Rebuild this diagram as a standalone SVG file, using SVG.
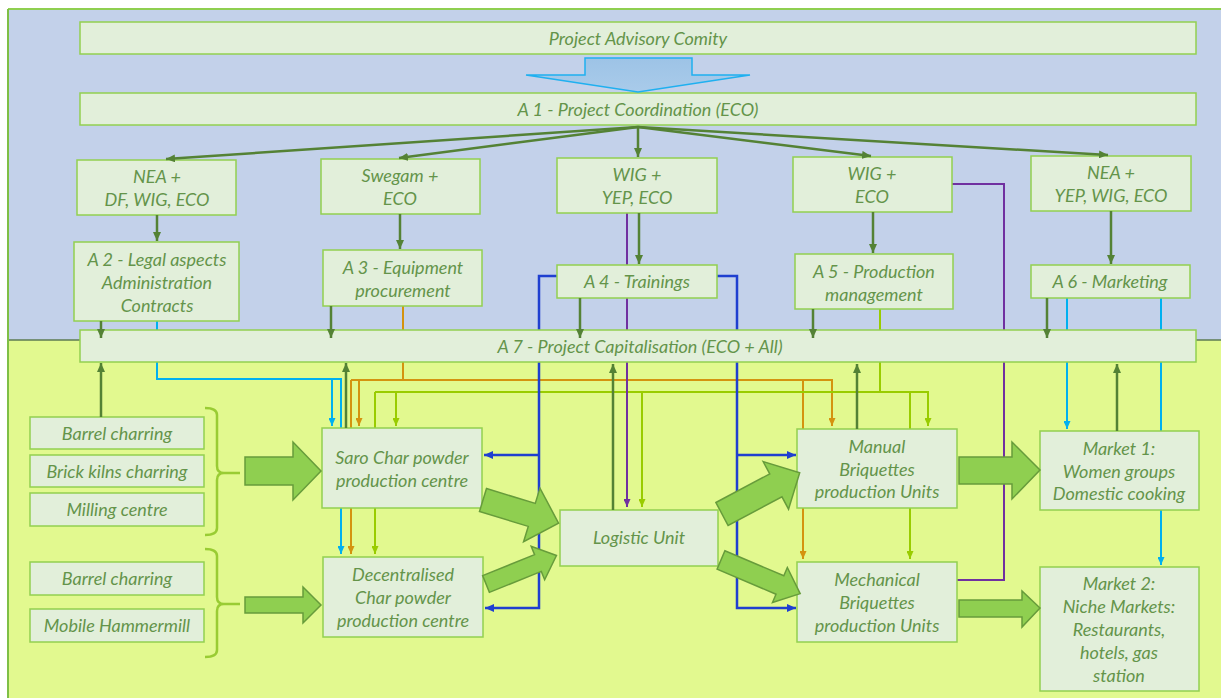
<svg xmlns="http://www.w3.org/2000/svg" width="1221" height="698" viewBox="0 0 1221 698">
<style>
.box{fill:#e2efda;stroke:#92d050;stroke-width:1.5}
.t{font-family:Lato,"Liberation Sans",sans-serif;font-style:italic;font-size:18px;fill:#64944a;text-anchor:middle}
.dg{fill:none;stroke:#548235;stroke-width:2.5}
.cy{fill:none;stroke:#00b0f0;stroke-width:2}
.or{fill:none;stroke:#d4930f;stroke-width:2}
.lg{fill:none;stroke:#99cc00;stroke-width:2}
.bl{fill:none;stroke:#1f3fd0;stroke-width:2.5}
.pu{fill:none;stroke:#7030a0;stroke-width:2}
.big{fill:#8fcf50;stroke:#679c3b;stroke-width:1.5}
.brace{fill:none;stroke:#99cc33;stroke-width:2.5}
</style>
<defs>
<marker id="mDG" markerUnits="userSpaceOnUse" markerWidth="9" markerHeight="8" refX="9" refY="4" orient="auto"><path d="M0,0 L9,4 L0,8 z" fill="#548235"/></marker>
<marker id="mCY" markerUnits="userSpaceOnUse" markerWidth="8" markerHeight="7" refX="8" refY="3.5" orient="auto"><path d="M0,0 L8,3.5 L0,7 z" fill="#00b0f0"/></marker>
<marker id="mOR" markerUnits="userSpaceOnUse" markerWidth="8" markerHeight="7" refX="8" refY="3.5" orient="auto"><path d="M0,0 L8,3.5 L0,7 z" fill="#d4930f"/></marker>
<marker id="mLG" markerUnits="userSpaceOnUse" markerWidth="8" markerHeight="7" refX="8" refY="3.5" orient="auto"><path d="M0,0 L8,3.5 L0,7 z" fill="#99cc00"/></marker>
<marker id="mBL" markerUnits="userSpaceOnUse" markerWidth="9" markerHeight="8" refX="9" refY="4" orient="auto"><path d="M0,0 L9,4 L0,8 z" fill="#1f3fd0"/></marker>
<marker id="mPU" markerUnits="userSpaceOnUse" markerWidth="8" markerHeight="7" refX="8" refY="3.5" orient="auto"><path d="M0,0 L8,3.5 L0,7 z" fill="#7030a0"/></marker>
<linearGradient id="gBlue" x1="0" y1="0" x2="0" y2="1"><stop offset="0" stop-color="#9dc3e6"/><stop offset="1" stop-color="#a9cbea"/></linearGradient>
</defs>

<g id="background">
<rect x="8" y="9" width="1213" height="331" fill="#c3d1ea"/>
<rect x="8" y="340" width="1213" height="358" fill="#e2f98f"/>
<line x1="8" y1="340" x2="1221" y2="340" stroke="#5d7a52" stroke-width="1.5"/>
<line x1="8" y1="9" x2="1221" y2="9" stroke="#8fcf50" stroke-width="2"/>
<line x1="8" y1="9" x2="8" y2="698" stroke="#7fbf45" stroke-width="2"/>
</g>

<g id="connectors-back">
<path class="cy" d="M157,321 V379 H341 V554" marker-end="url(#mCY)"/>
<path class="cy" d="M332,379 V426" marker-end="url(#mCY)"/>
<path class="cy" d="M1067,298 V429" marker-end="url(#mCY)"/>
<path class="cy" d="M1161,298 V565" marker-end="url(#mCY)"/>
<path class="or" d="M403,306 V380"/>
<path class="or" d="M351,380 H832 V426" marker-end="url(#mOR)"/>
<path class="or" d="M351,380 V554" marker-end="url(#mOR)"/>
<path class="or" d="M359,380 V426" marker-end="url(#mOR)"/>
<path class="or" d="M803,380 V559" marker-end="url(#mOR)"/>
<path class="lg" d="M880,309 V392"/>
<path class="lg" d="M375,392 H928 V426" marker-end="url(#mLG)"/>
<path class="lg" d="M375,392 V554" marker-end="url(#mLG)"/>
<path class="lg" d="M396,392 V426" marker-end="url(#mLG)"/>
<path class="lg" d="M642,392 V507" marker-end="url(#mLG)"/>
<path class="lg" d="M910,392 V559" marker-end="url(#mLG)"/>
<path class="bl" d="M557,276 H539 V608 H485" marker-end="url(#mBL)"/>
<path class="bl" d="M539,455 H484" marker-end="url(#mBL)"/>
<path class="bl" d="M717,276 H737 V608 H796" marker-end="url(#mBL)"/>
<path class="bl" d="M737,455 H796" marker-end="url(#mBL)"/>
<path class="pu" d="M627,213 V507" marker-end="url(#mPU)"/>
<path class="pu" d="M952,184 H1004 V580 H949" marker-end="url(#mPU)"/>
</g>

<g id="advisory"><rect class="box" x="80" y="22" width="1116" height="32"/><text class="t" x="638" y="45">Project Advisory Comity</text></g>
<g id="a1"><rect class="box" x="80" y="93" width="1116" height="32"/><text class="t" x="638" y="116">A 1 - Project Coordination (ECO)</text></g>
<g id="p-nea1"><rect class="box" x="77" y="160" width="159" height="55"/><text class="t" x="157" y="183">NEA +</text><text class="t" x="157" y="206">DF, WIG, ECO</text></g>
<g id="p-swegam"><rect class="box" x="321" y="159" width="159" height="55"/><text class="t" x="400" y="182">Swegam +</text><text class="t" x="400" y="205">ECO</text></g>
<g id="p-wig1"><rect class="box" x="557" y="158" width="160" height="55"/><text class="t" x="637" y="181">WIG +</text><text class="t" x="637" y="204">YEP, ECO</text></g>
<g id="p-wig2"><rect class="box" x="793" y="157" width="159" height="55"/><text class="t" x="872" y="180">WIG +</text><text class="t" x="872" y="203">ECO</text></g>
<g id="p-nea2"><rect class="box" x="1031" y="156" width="160" height="55"/><text class="t" x="1111" y="179">NEA +</text><text class="t" x="1111" y="202">YEP, WIG, ECO</text></g>
<g id="a2"><rect class="box" x="74" y="242" width="165" height="79"/><text class="t" x="157" y="266">A 2 - Legal aspects</text><text class="t" x="157" y="289">Administration</text><text class="t" x="157" y="312">Contracts</text></g>
<g id="a3"><rect class="box" x="323" y="250" width="159" height="56"/><text class="t" x="403" y="274">A 3 - Equipment</text><text class="t" x="403" y="297">procurement</text></g>
<g id="a4"><rect class="box" x="557" y="265" width="160" height="33"/><text class="t" x="637" y="288">A 4 - Trainings</text></g>
<g id="a5"><rect class="box" x="795" y="254" width="158" height="55"/><text class="t" x="874" y="278">A 5 - Production</text><text class="t" x="874" y="301">management</text></g>
<g id="a6"><rect class="box" x="1031" y="265" width="159" height="33"/><text class="t" x="1110" y="288">A 6 - Marketing</text></g>
<g id="a7"><rect class="box" x="80" y="330" width="1116" height="32"/><text class="t" x="640" y="353">A 7 - Project Capitalisation (ECO + All)</text></g>

<g id="barrel1"><rect class="box" x="30" y="417" width="174" height="32"/><text class="t" x="117" y="440">Barrel charring</text></g>
<g id="brick"><rect class="box" x="30" y="455" width="174" height="32"/><text class="t" x="117" y="478">Brick kilns charring</text></g>
<g id="milling"><rect class="box" x="30" y="493" width="174" height="33"/><text class="t" x="117" y="516">Milling centre</text></g>
<g id="barrel2"><rect class="box" x="30" y="562" width="174" height="33"/><text class="t" x="117" y="585">Barrel charring</text></g>
<g id="hammermill"><rect class="box" x="30" y="609" width="174" height="33"/><text class="t" x="117" y="632">Mobile Hammermill</text></g>
<g id="brace1"><path class="brace" d="M205,408 Q217,408 217,415 V466 Q217,473 224,473 H240 M224,473 Q217,473 217,480 V528 Q217,535 205,535"/></g>
<g id="brace2"><path class="brace" d="M205,549 Q217,549 217,556 V597 Q217,604 224,604 H240 M224,604 Q217,604 217,611 V650 Q217,657 205,657"/></g>

<g id="saro"><rect class="box" x="322" y="428" width="160" height="80"/><text class="t" x="402" y="464">Saro Char powder</text><text class="t" x="402" y="487">production centre</text></g>
<g id="decentralised"><rect class="box" x="323" y="557" width="160" height="80"/><text class="t" x="403" y="581">Decentralised</text><text class="t" x="403" y="604">Char powder</text><text class="t" x="403" y="627">production centre</text></g>
<g id="logistic"><rect class="box" x="560" y="510" width="158" height="56"/><text class="t" x="639" y="544">Logistic Unit</text></g>
<g id="manual"><rect class="box" x="797" y="429" width="160" height="79"/><text class="t" x="877" y="453">Manual</text><text class="t" x="877" y="476">Briquettes</text><text class="t" x="877" y="498">production Units</text></g>
<g id="mechanical"><rect class="box" x="797" y="562" width="160" height="80"/><text class="t" x="877" y="586">Mechanical</text><text class="t" x="877" y="609">Briquettes</text><text class="t" x="877" y="632">production Units</text></g>
<g id="market1"><rect class="box" x="1040" y="431" width="159" height="79"/><text class="t" x="1119" y="455">Market 1:</text><text class="t" x="1119" y="478">Women groups</text><text class="t" x="1119" y="500">Domestic cooking</text></g>
<g id="market2"><rect class="box" x="1040" y="567" width="159" height="124"/><text class="t" x="1119" y="590">Market 2:</text><text class="t" x="1119" y="613">Niche Markets:</text><text class="t" x="1119" y="636">Restaurants,</text><text class="t" x="1119" y="659">hotels, gas</text><text class="t" x="1119" y="682">station</text></g>

<g id="connectors">
<polygon points="585,58 692,58 692,75 750,75 638,92 526,75 585,75" fill="url(#gBlue)" stroke="#1fb0f0" stroke-width="1.5"/>
<path class="dg" d="M638,127 L166,159" marker-end="url(#mDG)"/>
<path class="dg" d="M638,127 L399,158" marker-end="url(#mDG)"/>
<path class="dg" d="M638,127 L638,157" marker-end="url(#mDG)"/>
<path class="dg" d="M638,127 L871,156" marker-end="url(#mDG)"/>
<path class="dg" d="M638,127 L1108,155" marker-end="url(#mDG)"/>
<path class="dg" d="M157,215 V241" marker-end="url(#mDG)"/>
<path class="dg" d="M400,214 V249" marker-end="url(#mDG)"/>
<path class="dg" d="M639,213 V264" marker-end="url(#mDG)"/>
<path class="dg" d="M873,212 V253" marker-end="url(#mDG)"/>
<path class="dg" d="M1111,211 V264" marker-end="url(#mDG)"/>
<path class="dg" d="M101,321 V338" marker-end="url(#mDG)"/>
<path class="dg" d="M331,306 V338" marker-end="url(#mDG)"/>
<path class="dg" d="M580,298 V338" marker-end="url(#mDG)"/>
<path class="dg" d="M813,309 V338" marker-end="url(#mDG)"/>
<path class="dg" d="M1047,298 V338" marker-end="url(#mDG)"/>
<path class="dg" d="M101,417 V363" marker-end="url(#mDG)"/>
<path class="dg" d="M346,428 V363" marker-end="url(#mDG)"/>
<path class="dg" d="M613,510 V364" marker-end="url(#mDG)"/>
<path class="dg" d="M857,429 V364" marker-end="url(#mDG)"/>
<path class="dg" d="M1117,431 V364" marker-end="url(#mDG)"/>
<polygon class="big" points="245,457 293,457 293,442 321,471 293,500 293,485 245,485"/>
<polygon class="big" points="245,597 303,597 303,587 321,605 303,623 303,613 245,613"/>
<polygon class="big" points="959,457 1012,457 1012,442 1040,470 1012,499 1012,484 959,484"/>
<polygon class="big" points="959,600 1022,600 1022,591 1040,608 1022,627 1022,617 959,617"/>
<polygon class="big" transform="translate(483,500) rotate(17)" points="0,-12 51,-12 51,-28 79,0 51,28 51,12 0,12"/>
<polygon class="big" transform="translate(486,584) rotate(-22)" points="0,-9 56,-9 56,-18 76,0 56,18 56,9 0,9"/>
<polygon class="big" transform="translate(722,514) rotate(-28)" points="0,-13 61,-13 61,-27 88,0 61,27 61,13 0,13"/>
<polygon class="big" transform="translate(721,560) rotate(23)" points="0,-10 64,-10 64,-19 86,0 64,19 64,10 0,10"/>
</g>
</svg>
